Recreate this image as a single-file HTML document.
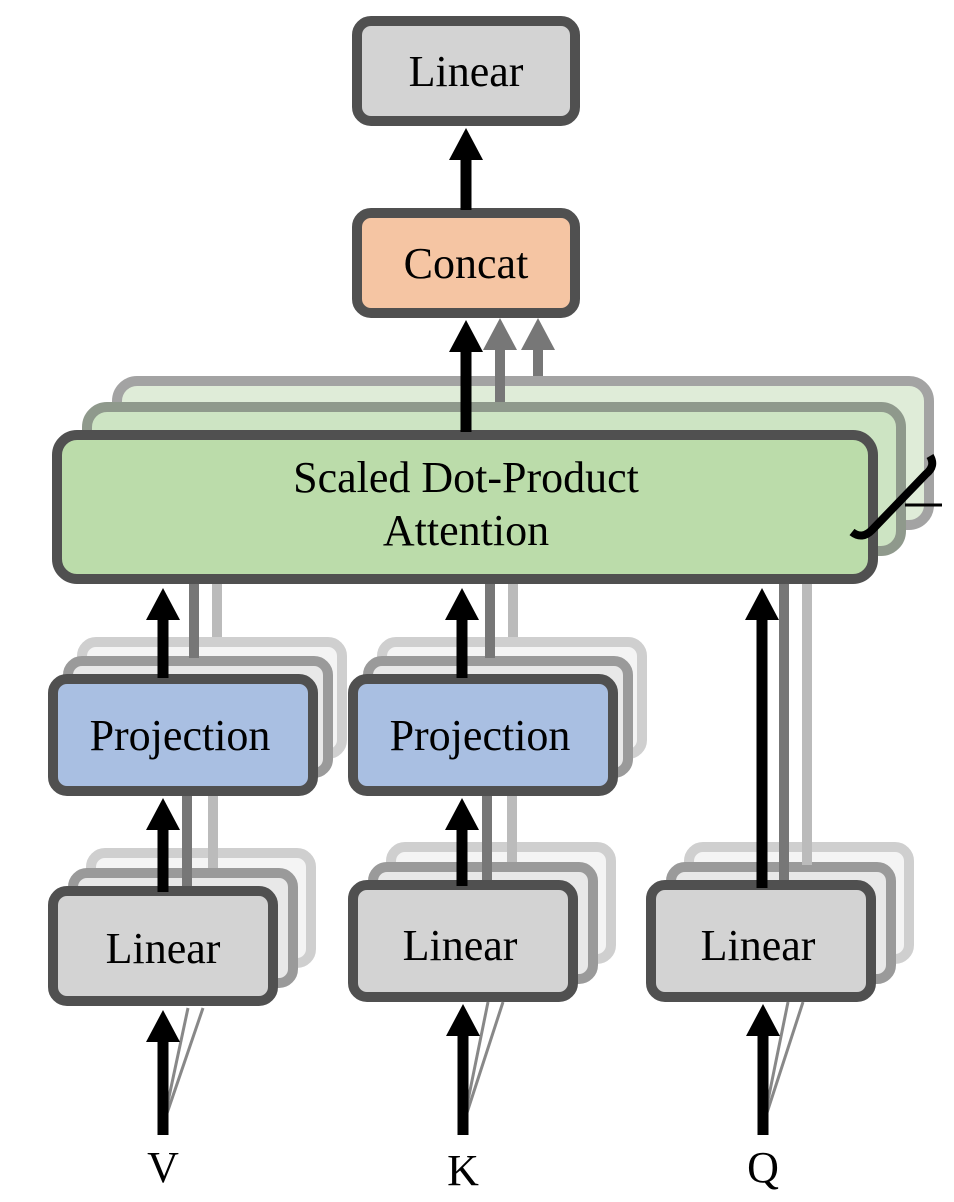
<!DOCTYPE html>
<html><head><meta charset="utf-8"><style>
html,body{margin:0;padding:0;background:#fff;}
svg{display:block;}
text{font-family:"Liberation Serif",serif;font-size:44px;fill:#000;text-anchor:middle;}
</style></head><body>
<svg width="954" height="1202" viewBox="0 0 954 1202" xmlns="http://www.w3.org/2000/svg">
<rect x="117" y="381" width="812" height="144" rx="20" fill="#dfecd8" stroke="#a3a3a3" stroke-width="10"/>
<rect x="87" y="407" width="814" height="144" rx="20" fill="#cde4c3" stroke="#8f998c" stroke-width="10"/>
<rect x="82" y="642" width="260" height="112" rx="14" fill="#f4f4f4" stroke="#cfcfcf" stroke-width="10"/>
<rect x="68" y="661" width="260" height="112" rx="14" fill="#e8e8e8" stroke="#9a9a9a" stroke-width="10"/>
<rect x="382" y="642" width="260" height="112" rx="14" fill="#f4f4f4" stroke="#cfcfcf" stroke-width="10"/>
<rect x="368" y="661" width="260" height="112" rx="14" fill="#e8e8e8" stroke="#9a9a9a" stroke-width="10"/>
<rect x="91" y="853" width="220" height="110" rx="14" fill="#f4f4f4" stroke="#cfcfcf" stroke-width="10"/>
<rect x="73" y="873" width="220" height="110" rx="14" fill="#e8e8e8" stroke="#9a9a9a" stroke-width="10"/>
<rect x="391" y="847" width="220" height="112" rx="14" fill="#f4f4f4" stroke="#cfcfcf" stroke-width="10"/>
<rect x="373" y="867" width="220" height="112" rx="14" fill="#e8e8e8" stroke="#9a9a9a" stroke-width="10"/>
<rect x="689" y="847" width="220" height="112" rx="14" fill="#f4f4f4" stroke="#cfcfcf" stroke-width="10"/>
<rect x="671" y="867" width="220" height="112" rx="14" fill="#e8e8e8" stroke="#9a9a9a" stroke-width="10"/>
<g>
<rect x="189" y="584" width="10" height="74" fill="#777"/>
<rect x="212" y="584" width="10" height="53" fill="#bbb"/>
<rect x="485" y="584" width="10" height="74" fill="#777"/>
<rect x="508" y="584" width="10" height="53" fill="#bbb"/>
<rect x="182" y="796" width="10" height="90" fill="#777"/>
<rect x="208" y="796" width="10" height="72" fill="#bbb"/>
<rect x="482" y="796" width="10" height="86" fill="#777"/>
<rect x="507" y="796" width="10" height="66" fill="#bbb"/>
<rect x="779" y="584" width="10" height="299" fill="#777"/>
<rect x="802" y="584" width="10" height="281" fill="#bbb"/>
<rect x="495" y="348" width="10" height="54" fill="#777"/>
<rect x="533" y="348" width="10" height="28" fill="#777"/>
</g>
<rect x="357" y="21" width="218" height="100" rx="14" fill="#d3d3d3" stroke="#505050" stroke-width="10"/>
<text x="466" y="86">Linear</text>
<rect x="357" y="213" width="218" height="100" rx="14" fill="#f5c5a3" stroke="#505050" stroke-width="10"/>
<text x="466" y="278">Concat</text>
<rect x="57" y="435" width="816" height="144" rx="20" fill="#bbdcaa" stroke="#505050" stroke-width="10"/>
<text x="466" y="492">Scaled Dot-Product</text>
<text x="466" y="545">Attention</text>
<rect x="53" y="679" width="260" height="112" rx="14" fill="#a9bfe2" stroke="#505050" stroke-width="10"/>
<text x="180" y="750">Projection</text>
<rect x="353" y="679" width="260" height="112" rx="14" fill="#a9bfe2" stroke="#505050" stroke-width="10"/>
<text x="480" y="750">Projection</text>
<rect x="53" y="891" width="220" height="110" rx="14" fill="#d3d3d3" stroke="#505050" stroke-width="10"/>
<text x="163" y="963">Linear</text>
<rect x="353" y="885" width="220" height="112" rx="14" fill="#d3d3d3" stroke="#505050" stroke-width="10"/>
<text x="460" y="960">Linear</text>
<rect x="651" y="885" width="220" height="112" rx="14" fill="#d3d3d3" stroke="#505050" stroke-width="10"/>
<text x="758" y="960">Linear</text>
<path d="M852 532 Q862 540 872 530 L926 474 Q936 466 930 456" fill="none" stroke="#000" stroke-width="8"/>
<line x1="905" y1="505" x2="942" y2="505" stroke="#000" stroke-width="3"/>
<polygon points="500,318 483,350 517,350" fill="#777"/>
<polygon points="538,318 521,350 555,350" fill="#777"/>
<g stroke="#888" stroke-width="3">
<line x1="163" y1="1125" x2="188" y2="1008"/><line x1="163" y1="1125" x2="203" y2="1008"/>
<line x1="463" y1="1125" x2="488" y2="1002"/><line x1="463" y1="1125" x2="503" y2="1002"/>
<line x1="763" y1="1125" x2="788" y2="1002"/><line x1="763" y1="1125" x2="803" y2="1002"/>
</g>
<g fill="#000">
<polygon points="466,128 449,160 483,160"/><rect x="460.5" y="158" width="11" height="52"/>
<polygon points="466,320 449,352 483,352"/><rect x="460.5" y="350" width="11" height="82"/>
<polygon points="163,588 146,620 180,620"/><rect x="157.5" y="618" width="11" height="60"/>
<polygon points="462,588 445,620 479,620"/><rect x="456.5" y="618" width="11" height="60"/>
<polygon points="762,588 745,620 779,620"/><rect x="756.5" y="618" width="11" height="270"/>
<polygon points="163,798 146,830 180,830"/><rect x="157.5" y="828" width="11" height="64"/>
<polygon points="462,798 445,830 479,830"/><rect x="456.5" y="828" width="11" height="58"/>
<polygon points="163,1010 146,1042 180,1042"/><rect x="157.5" y="1040" width="11" height="95"/>
<polygon points="463,1004 446,1036 480,1036"/><rect x="457.5" y="1034" width="11" height="101"/>
<polygon points="763,1004 746,1036 780,1036"/><rect x="757.5" y="1034" width="11" height="101"/>
</g>
<text x="163" y="1182">V</text>
<text x="463" y="1185">K</text>
<text x="763" y="1182">Q</text>
</svg>
</body></html>
